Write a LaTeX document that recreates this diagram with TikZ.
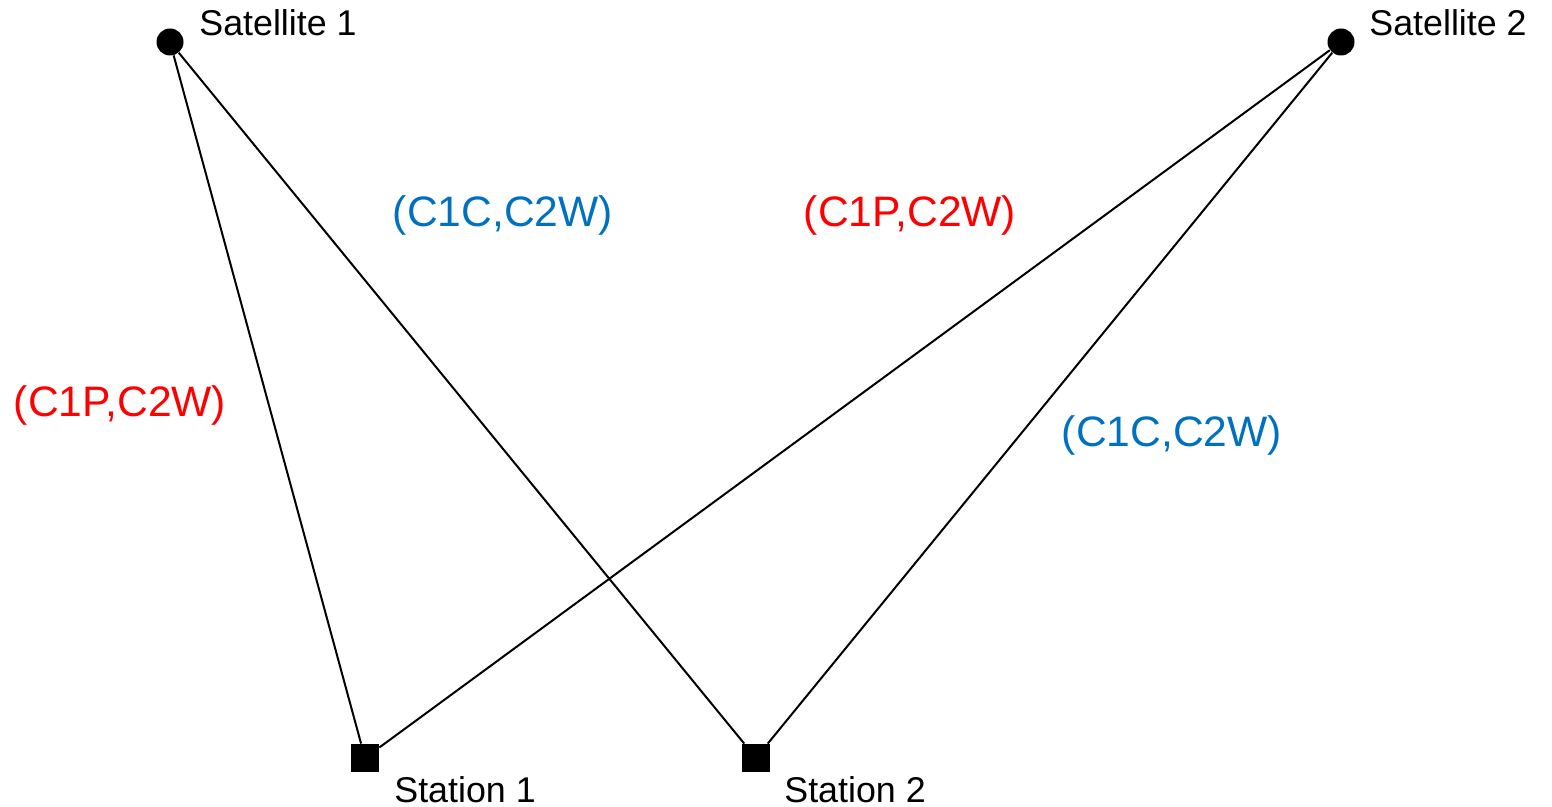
\documentclass[tikz,border=0pt]{standalone}
\usepackage{fontspec}
\setmainfont{Liberation Sans}
\definecolor{codeblue}{RGB}{0,112,192}
\definecolor{codered}{RGB}{255,0,0}
\begin{document}
\begin{tikzpicture}[x=0.5pt,y=-0.5pt,
  satdot/.style={circle,fill=black,inner sep=0pt,minimum size=13.5pt},
  stabox/.style={rectangle,fill=black,inner sep=0pt,minimum size=14pt},
  nametext/.style={inner sep=0pt,anchor=base west,font=\fontsize{17.9pt}{20pt}\selectfont},
  obstext/.style={inner sep=0pt,anchor=center,font=\fontsize{21.3pt}{24pt}\selectfont},
  link/.style={line width=1pt,black}]
\useasboundingbox (0,0) rectangle (1552,807);
% satellites and ground stations
\node[satdot] (s1) at (170,42) {};
\node[satdot] (s2) at (1341,42) {};
\node[stabox] (g1) at (365,758) {};
\node[stabox] (g2) at (756,758) {};
% names
\node[nametext] (s1name) at (199,36) {Satellite 1};
\node[nametext] (s2name) at (1369,36) {Satellite 2};
\node[nametext] (g1name) at (394,802) {Station 1};
\node[nametext] (g2name) at (784,802) {Station 2};
% observation code pairs
\node[obstext,text=codeblue] (o1) at (503,215) {(C1C,C2W)};
\node[obstext,text=codered] (o2) at (910,215) {(C1P,C2W)};
\node[obstext,text=codered] (o3) at (120,405) {(C1P,C2W)};
\node[obstext,text=codeblue] (o4) at (1172,435) {(C1C,C2W)};
% satellite-station links
\draw[link] (s1) -- (g1);
\draw[link] (s1) -- (g2);
\draw[link] (s2) -- (g1);
\draw[link] (s2) -- (g2);
\end{tikzpicture}
\end{document}
